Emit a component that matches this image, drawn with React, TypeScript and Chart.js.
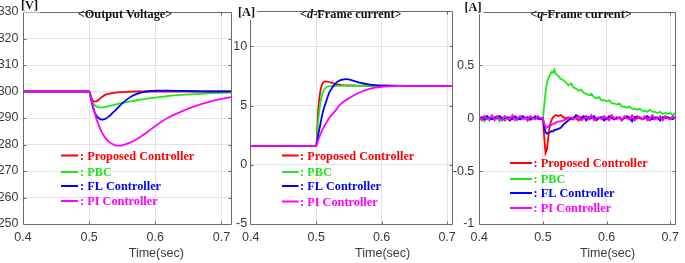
import React, { useEffect, useRef } from "react";
import { Chart, registerables } from "chart.js";
Chart.register(...registerables);

// ---------------- data ----------------
const seriesNames = ["Proposed Controller", "PBC", "FL Controller", "PI Controller"];
const lineColors = ["#ff0000", "#1ee81e", "#0000ff", "#ff00ff"];
const textColors = ["#ff0000", "#22e022", "#0000ff", "#ff00ff"];

// time grid for the smooth panels (s)
const tSmooth = [0.4, 0.5, 0.503, 0.506, 0.51, 0.515, 0.52, 0.525, 0.53, 0.535, 0.54, 0.545, 0.55, 0.56, 0.57, 0.58, 0.59, 0.6, 0.62, 0.64, 0.66, 0.68, 0.7, 0.715];

// output voltage [V]
const vProposed = [300, 300, 298.0, 296.4, 296.2, 297.0, 298.0, 298.8, 299.2, 299.4, 299.6, 299.7, 299.8, 299.9, 300, 300, 300, 300, 300, 300, 300, 300, 300, 300];
const vPBC = [300, 300, 297.5, 295.6, 294.5, 294.0, 294.0, 294.2, 294.5, 294.8, 295.1, 295.4, 295.7, 296.2, 296.6, 297.0, 297.4, 297.7, 298.3, 298.7, 299.0, 299.3, 299.5, 299.6];
const vFL = [300, 300, 297.0, 293.8, 291.3, 289.8, 289.4, 289.7, 290.6, 291.8, 293.0, 294.3, 295.5, 297.5, 298.9, 299.7, 300.1, 300.3, 300.3, 300.2, 300.1, 300.0, 300.0, 300.0];
const vPI = [300, 300, 297.5, 294.5, 290.5, 287.0, 284.2, 282.3, 281.0, 280.2, 279.7, 279.6, 279.7, 280.5, 281.7, 283.3, 285.1, 287.0, 290.2, 292.5, 294.5, 296.0, 297.2, 297.9];

// d-frame current [A]
const dProposed = [1.6, 1.6, 4.5, 6.1, 6.9, 7.05, 7.0, 6.9, 6.82, 6.77, 6.74, 6.72, 6.71, 6.7, 6.69, 6.68, 6.68, 6.68, 6.68, 6.68, 6.68, 6.68, 6.68, 6.68];
const dPBC = [1.6, 1.6, 3.6, 5.1, 6.1, 6.55, 6.64, 6.66, 6.67, 6.67, 6.68, 6.68, 6.68, 6.68, 6.68, 6.68, 6.68, 6.68, 6.68, 6.68, 6.68, 6.68, 6.68, 6.68];
const dFL = [1.6, 1.6, 2.5, 3.3, 4.4, 5.3, 6.1, 6.55, 6.9, 7.1, 7.2, 7.24, 7.22, 7.05, 6.9, 6.8, 6.74, 6.71, 6.69, 6.68, 6.68, 6.68, 6.68, 6.68];
const dPI = [1.6, 1.6, 2.05, 2.5, 3.0, 3.5, 3.95, 4.3, 4.6, 5.0, 5.25, 5.45, 5.62, 5.95, 6.2, 6.4, 6.52, 6.6, 6.66, 6.68, 6.68, 6.68, 6.68, 6.68];

// time grid for the q-frame panel (s)
const tQ = [
  0.400, 0.404, 0.408, 0.412, 0.416, 0.420, 0.424, 0.428, 0.432, 0.436,
  0.440, 0.444, 0.448, 0.452, 0.456, 0.460, 0.464, 0.468, 0.472, 0.476,
  0.480, 0.484, 0.488, 0.492, 0.496,
  0.500, 0.502, 0.504, 0.506, 0.508, 0.510, 0.512, 0.514, 0.516, 0.518,
  0.520, 0.524, 0.528, 0.532, 0.536, 0.540, 0.544, 0.548, 0.552, 0.556,
  0.560, 0.564, 0.568, 0.572, 0.576, 0.580, 0.584, 0.588, 0.592, 0.596,
  0.600, 0.604, 0.608, 0.612, 0.616, 0.620, 0.624, 0.628, 0.632, 0.636,
  0.640, 0.644, 0.648, 0.652, 0.656, 0.660, 0.664, 0.668, 0.672, 0.676,
  0.680, 0.684, 0.688, 0.692, 0.696, 0.700, 0.704, 0.708, 0.712,
];

// q-frame current [A]
const qProposed = [
  0.01, -0.01, 0.02, 0.00, -0.02, 0.01, 0.00, 0.02, -0.01, 0.01,
  -0.02, 0.00, 0.01, -0.01, 0.02, 0.00, -0.01, 0.01, 0.00, -0.02,
  0.01, 0.00, 0.02, -0.01, 0.00,
  0.00, -0.18, -0.33, -0.30, -0.20, -0.10, -0.04, -0.01, 0.01, 0.02,
  0.03, 0.02, 0.03, 0.01, 0.00, 0.01, -0.01, 0.01, 0.00, -0.02,
  0.01, 0.00, 0.02, -0.01, 0.00, 0.01, -0.02, 0.00, 0.01, 0.00,
  -0.01, 0.02, 0.00, -0.01, 0.01, 0.00, -0.02, 0.01, 0.00, 0.01,
  -0.01, 0.00, 0.02, 0.00, -0.01, 0.01, 0.00, -0.02, 0.01, 0.00,
  0.01, -0.01, 0.00, 0.02, 0.00, -0.01, 0.01, 0.00, 0.01,
];
const qPBC = [
  -0.01, 0.01, -0.03, 0.00, -0.02, 0.01, -0.01, 0.00, -0.03, 0.01,
  -0.01, 0.00, -0.02, 0.01, 0.00, -0.02, 0.01, -0.01, 0.00, 0.01,
  -0.02, 0.00, 0.01, -0.01, 0.00,
  0.00, 0.12, 0.24, 0.32, 0.37, 0.40, 0.42, 0.44, 0.43, 0.46,
  0.42, 0.40, 0.37, 0.36, 0.34, 0.31, 0.33, 0.29, 0.28, 0.26,
  0.27, 0.24, 0.23, 0.22, 0.23, 0.20, 0.19, 0.20, 0.17, 0.17,
  0.16, 0.17, 0.14, 0.14, 0.13, 0.14, 0.11, 0.11, 0.10, 0.11,
  0.09, 0.09, 0.08, 0.09, 0.07, 0.07, 0.06, 0.08, 0.06, 0.06,
  0.05, 0.06, 0.04, 0.05, 0.04, 0.05, 0.03, 0.05, 0.04,
];
const qFL = [
  0.00, 0.01, -0.01, 0.02, 0.00, -0.01, 0.01, 0.00, 0.02, -0.01,
  0.00, 0.01, -0.02, 0.00, 0.01, 0.00, -0.01, 0.02, 0.00, 0.01,
  -0.01, 0.00, 0.01, 0.00, -0.01,
  0.00, -0.08, -0.13, -0.145, -0.14, -0.135, -0.13, -0.12, -0.125, -0.11,
  -0.11, -0.10, -0.09, -0.06, -0.04, -0.02, 0.00, -0.01, 0.03, 0.01,
  0.00, 0.02, -0.02, 0.01, 0.00, 0.02, -0.01, 0.00, 0.01, -0.02,
  0.00, 0.01, 0.02, -0.01, 0.00, 0.01, -0.01, 0.00, 0.02, 0.00,
  -0.03, 0.01, 0.00, 0.01, -0.01, 0.00, 0.02, 0.00, -0.01, 0.01,
  0.00, -0.02, 0.01, 0.00, 0.01, 0.00, -0.01, 0.01, 0.00,
];
const qPI = [
  0.01, -0.02, 0.02, -0.01, 0.00, 0.03, -0.02, 0.01, 0.00, -0.02,
  0.02, 0.00, -0.01, 0.03, -0.02, 0.00, 0.02, -0.01, 0.01, -0.02,
  0.02, 0.00, -0.01, 0.02, 0.00,
  0.00, -0.05, -0.08, -0.09, -0.08, -0.07, -0.07, -0.06, -0.05, -0.05,
  -0.04, -0.03, -0.03, -0.02, -0.01, 0.00, 0.01, -0.01, 0.00, 0.02,
  -0.02, 0.00, 0.01, -0.01, 0.03, -0.02, 0.00, 0.01, -0.01, 0.02,
  0.00, -0.02, 0.03, 0.00, -0.01, 0.01, -0.02, 0.02, 0.00, -0.01,
  0.03, -0.02, 0.00, 0.01, -0.01, 0.02, -0.02, 0.00, 0.03, -0.01,
  0.00, 0.02, -0.02, 0.01, 0.00, -0.01, 0.02, 0.00, 0.01,
];

// axis ticks
const xTicks = [0.4, 0.5, 0.6, 0.7];
const vTicks = [250, 260, 270, 280, 290, 300, 310, 320, 330];
const dTicks = [-5, 0, 5, 10];
const qTicks = [-1, -0.5, 0, 0.5];
const xTitle = "Time(sec)";

// ---------------- presentation ----------------
const SERIF = "'Liberation Serif', 'Times New Roman', serif";
const SANS = "'Liberation Sans', Arial, sans-serif";
const GRID = "#e4e4e4";
const BOX = "#6a6a6a";
const TICKTXT = "#3a3a3a";
const ANNOT_SIZE = 12.3;

type TitlePart = { text: string; italic?: boolean };
type PanelSpec = {
  left: number;
  width: number;
  yAxisW: number;
  padRight: number;
  padTop: number;
  xMax: number;
  yMin: number;
  yMax: number;
  yTicks: number[];
  yPad: number;
  t: number[];
  series: number[][];
  smooth: boolean;
  unit: string;
  unitPos: [number, number];
  title: TitlePart[];
  titleDx: number;
  legendLine: [number, number];
  legendTextX: number;
  legendYs: number[];
};

const panels: PanelSpec[] = [
  {
    left: 0, width: 240, yAxisW: 23, padRight: 9, padTop: 4.5,
    xMax: 0.7145, yMin: 250, yMax: 330, yTicks: vTicks, yPad: 4.5,
    t: tSmooth, series: [vProposed, vPBC, vFL, vPI], smooth: true,
    unit: "[V]", unitPos: [29.5, 5.5],
    title: [{ text: "<Output Voltage>" }], titleDx: -2,
    legendLine: [61, 78], legendTextX: 80, legendYs: [155.5, 172, 186, 201],
  },
  {
    left: 228, width: 234, yAxisW: 22.7, padRight: 7.7, padTop: 4.3,
    xMax: 0.709, yMin: -5, yMax: 13, yTicks: dTicks, yPad: 3.5,
    t: tSmooth, series: [dProposed, dPBC, dFL, dPI], smooth: true,
    unit: "[A]", unitPos: [246.5, 13],
    title: [{ text: "<" }, { text: "d", italic: true }, { text: "-Frame current>" }], titleDx: -1,
    legendLine: [282, 298.5], legendTextX: 300, legendYs: [155.5, 172, 186, 201.5],
  },
  {
    left: 452, width: 233, yAxisW: 27.3, padRight: 1.3, padTop: 4.3,
    xMax: 0.7085, yMin: -1, yMax: 1, yTicks: qTicks, yPad: 5,
    t: tQ, series: [qProposed, qPBC, qFL, qPI], smooth: false,
    unit: "[A]", unitPos: [473, 7.5],
    title: [{ text: "<" }, { text: "q", italic: true }, { text: "-Frame current>" }], titleDx: 3.5,
    legendLine: [510, 532], legendTextX: 533.5, legendYs: [163, 179, 193, 208],
  },
];

const fmt = (v: number) => String(Math.round(v * 1000) / 1000);

const decorPlugin = {
  id: "decor",
  afterDraw(chart: any, _args: any, opts: any) {
    const spec: PanelSpec = opts.spec;
    const { ctx, chartArea: a, scales } = chart;
    const off = spec.left;
    ctx.save();
    // box
    const L = Math.floor(a.left) + 0.5;
    const R = Math.floor(a.right) + 0.5;
    const T = Math.floor(a.top) + 0.5;
    const B = Math.floor(a.bottom) + 0.5;
    ctx.strokeStyle = BOX;
    ctx.lineWidth = 1;
    ctx.beginPath();
    ctx.rect(L, T, R - L, B - T);
    // inner tick marks
    for (const v of xTicks) {
      const px = Math.round(scales.x.getPixelForValue(v)) + 0.5;
      if (px <= L + 1 || px >= R - 1) continue;
      ctx.moveTo(px, B); ctx.lineTo(px, B - 3);
      ctx.moveTo(px, T); ctx.lineTo(px, T + 3);
    }
    for (const v of spec.yTicks) {
      const py = Math.round(scales.y.getPixelForValue(v)) + 0.5;
      if (py <= T + 1 || py >= B - 1) continue;
      ctx.moveTo(L, py); ctx.lineTo(L + 3, py);
      ctx.moveTo(R, py); ctx.lineTo(R - 3, py);
    }
    ctx.stroke();

    // unit label with white backing
    ctx.font = `bold ${ANNOT_SIZE}px ${SERIF}`;
    ctx.textBaseline = "middle";
    ctx.textAlign = "center";
    const uw = ctx.measureText(spec.unit).width;
    const ux = spec.unitPos[0] - off;
    const uy = spec.unitPos[1];
    ctx.fillStyle = "#ffffff";
    ctx.fillRect(ux - uw / 2 - 2, uy - 7, uw + 4, 14);
    ctx.fillStyle = "#111111";
    ctx.fillText(spec.unit, ux, uy);

    // panel title (mixed italic)
    ctx.textAlign = "left";
    const fontOf = (p: TitlePart) => (p.italic ? `italic bold ${ANNOT_SIZE}px ${SERIF}` : `bold ${ANNOT_SIZE}px ${SERIF}`);
    let total = 0;
    for (const p of spec.title) { ctx.font = fontOf(p); total += ctx.measureText(p.text).width; }
    let tx = (a.left + a.right) / 2 + spec.titleDx - total / 2;
    ctx.fillStyle = "#111111";
    for (const p of spec.title) {
      ctx.font = fontOf(p);
      ctx.fillText(p.text, tx, 15);
      tx += ctx.measureText(p.text).width;
    }

    // legend
    ctx.font = `bold ${ANNOT_SIZE}px ${SERIF}`;
    seriesNames.forEach((name, i) => {
      const y = spec.legendYs[i];
      ctx.strokeStyle = lineColors[i];
      ctx.lineWidth = 2;
      ctx.beginPath();
      ctx.moveTo(spec.legendLine[0] - off, y);
      ctx.lineTo(spec.legendLine[1] - off, y);
      ctx.stroke();
      ctx.fillStyle = textColors[i];
      ctx.fillText(": " + name, spec.legendTextX - off, y + 1);
    });

    // x-axis title, centred under the 0.6 gridline
    ctx.font = `12.5px ${SANS}`;
    ctx.fillStyle = TICKTXT;
    ctx.textAlign = "center";
    ctx.fillText(xTitle, scales.x.getPixelForValue(0.6) + 1, 254);
    ctx.restore();
  },
};

function buildConfig(spec: PanelSpec): any {
  return {
    type: "line",
    data: {
      datasets: spec.series.map((ys, i) => ({
        label: seriesNames[i],
        data: spec.t.map((x, j) => ({ x, y: ys[j] })),
        borderColor: lineColors[i],
        borderWidth: 1.8,
        pointRadius: 0,
        fill: false,
        tension: 0,
        cubicInterpolationMode: spec.smooth ? "monotone" : "default",
        order: 3 - i,
      })),
    },
    plugins: [decorPlugin],
    options: {
      animation: false,
      responsive: false,
      maintainAspectRatio: false,
      events: [],
      layout: { padding: { left: 0, right: spec.padRight, top: spec.padTop, bottom: 0 } },
      plugins: {
        legend: { display: false },
        tooltip: { enabled: false },
        decor: { spec },
      },
      scales: {
        x: {
          type: "linear",
          min: 0.4,
          max: spec.xMax,
          afterBuildTicks: (s: any) => { s.ticks = xTicks.map((v) => ({ value: v })); },
          afterFit: (s: any) => { s.height = 39; },
          grid: { color: GRID, drawTicks: false, lineWidth: 1 },
          border: { display: false },
          ticks: {
            font: { family: SANS, size: 12.5 },
            color: TICKTXT,
            padding: 6,
            maxRotation: 0,
            autoSkip: false,
            callback: (v: any) => fmt(Number(v)),
          },
        },
        y: {
          type: "linear",
          min: spec.yMin,
          max: spec.yMax,
          afterBuildTicks: (s: any) => { s.ticks = spec.yTicks.map((v) => ({ value: v })); },
          afterFit: (s: any) => { s.width = spec.yAxisW; },
          grid: { color: GRID, drawTicks: false, lineWidth: 1 },
          border: { display: false },
          ticks: {
            font: { family: SANS, size: 12.5 },
            color: TICKTXT,
            padding: spec.yPad,
            autoSkip: false,
            callback: (v: any) => fmt(Number(v)),
          },
        },
      },
    },
  };
}

function Panel({ spec }: { spec: PanelSpec }) {
  const ref = useRef<HTMLCanvasElement>(null);
  useEffect(() => {
    const chart = new Chart(ref.current as HTMLCanvasElement, buildConfig(spec));
    return () => chart.destroy();
  }, [spec]);
  return (
    <canvas
      ref={ref}
      width={spec.width}
      height={263}
      style={{ position: "absolute", left: spec.left, top: 0, width: spec.width, height: 263 }}
    />
  );
}

export default function App() {
  return (
    <div style={{ position: "fixed", left: 0, top: 0, width: 685, height: 263, background: "#ffffff", overflow: "hidden" }}>
      {panels.map((p, i) => (
        <Panel key={i} spec={p} />
      ))}
    </div>
  );
}
